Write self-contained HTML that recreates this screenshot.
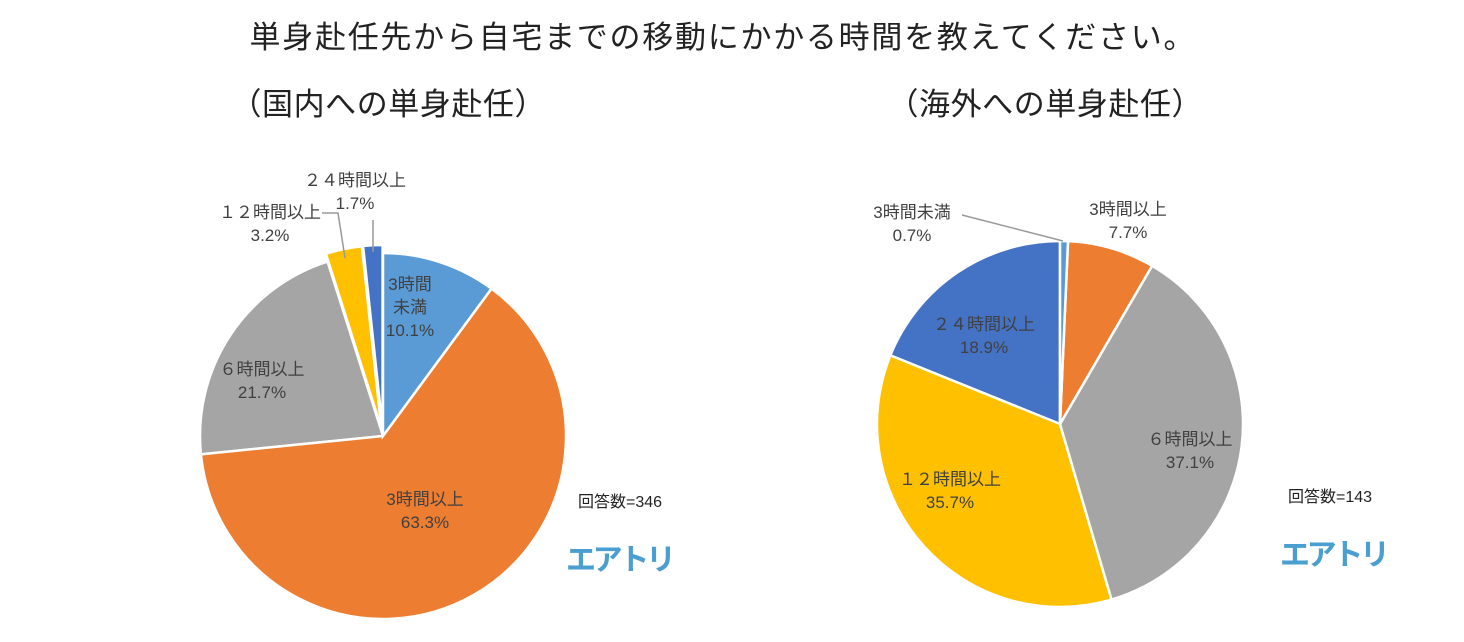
<!DOCTYPE html>
<html><head><meta charset="utf-8"><style>
body{margin:0;background:#fff;width:1464px;height:637px;overflow:hidden;font-family:"Liberation Sans","Noto Sans CJK JP",sans-serif}
svg text{font-family:"Liberation Sans","Noto Sans CJK JP",sans-serif}
</style></head><body>
<svg id="c" width="1464" height="637">
<text x="722" y="48" text-anchor="middle" font-size="31" fill="#222" textLength="945">単身赴任先から自宅までの移動にかかる時間を教えてください。</text>
<text x="388" y="115" text-anchor="middle" font-size="31" fill="#222" textLength="315">（国内への単身赴任）</text>
<text x="1045" y="115" text-anchor="middle" font-size="31" fill="#222" textLength="315">（海外への単身赴任）</text>
<text x="620" y="507" text-anchor="middle" font-size="16" fill="#222">回答数=346</text>
<text x="1330" y="502" text-anchor="middle" font-size="16" fill="#222">回答数=143</text>
<text x="621" y="570" text-anchor="middle" font-size="30" font-weight="bold" fill="#4a9fd0" textLength="110">エアトリ</text>
<text x="1335" y="565" text-anchor="middle" font-size="30" font-weight="bold" fill="#4a9fd0" textLength="110">エアトリ</text>
<polyline points="322,213 338,213 345,258" fill="none" stroke="#999" stroke-width="1.5"/>
<line x1="373" y1="220" x2="373" y2="252" stroke="#999" stroke-width="1.5"/>
<polyline points="962,215 1063,241" fill="none" stroke="#999" stroke-width="1.5"/>
</svg>
<script>
const colors=["#5b9bd5","#ed7d31","#a5a5a5","#ffc000","#4472c4"];
const leftCats=["3時間未満","3時間以上","6時間以上","12時間以上","24時間以上"];
const leftVals=[10.1,63.3,21.7,3.2,1.7];
const rightCats=["3時間未満","3時間以上","6時間以上","12時間以上","24時間以上"];
const rightVals=[0.7,7.7,37.1,35.7,18.9];
const leftLabels=[["3時間","未満","10.1%"],["3時間以上","63.3%"],["６時間以上","21.7%"],["１２時間以上","3.2%"],["２４時間以上","1.7%"]];
const rightLabels=[["3時間未満","0.7%"],["3時間以上","7.7%"],["６時間以上","37.1%"],["１２時間以上","35.7%"],["２４時間以上","18.9%"]];
const leftPos=[[410,290],[425,505],[262,375],[270,218],[355,186]];
const rightPos=[[912,218],[1128,215],[1190,445],[950,485],[984,330]];
const ns="http://www.w3.org/2000/svg";
const svg=document.getElementById('c');
function pie(cx,cy,r,vals,cats,explode,labels,pos,side){
  const tot=vals.reduce((a,b)=>a+b,0);let a0=0;
  vals.forEach((v,i)=>{
    const a1=a0+v/tot*2*Math.PI;const m=(a0+a1)/2;
    const e=explode[i]||0;const ox=cx+e*Math.sin(m),oy=cy-e*Math.cos(m);
    const x0=ox+r*Math.sin(a0),y0=oy-r*Math.cos(a0),x1=ox+r*Math.sin(a1),y1=oy-r*Math.cos(a1);
    const p=document.createElementNS(ns,'path');
    p.setAttribute('d',`M${ox},${oy}L${x0},${y0}A${r},${r} 0 ${a1-a0>Math.PI?1:0} 1 ${x1},${y1}Z`);
    p.setAttribute('fill',colors[i]);p.setAttribute('stroke','#fff');p.setAttribute('stroke-width','2.5');
    
    
    svg.insertBefore(p,svg.firstChild);
    const t=document.createElementNS(ns,'text');
    t.setAttribute('x',pos[i][0]);t.setAttribute('y',pos[i][1]);t.setAttribute('text-anchor','middle');
    t.setAttribute('font-size','17');t.setAttribute('fill','#404040');
    
    
    labels[i].forEach((s,k)=>{const ts=document.createElementNS(ns,'tspan');ts.setAttribute('x',pos[i][0]);ts.setAttribute('dy',k?'23':'0');ts.textContent=s;t.appendChild(ts);});
    svg.appendChild(t);
    a0=a1;
  });
}
pie(383,436,183,leftVals,leftCats,[0,0,0,8,8],leftLabels,leftPos,'left');
pie(1060,424,183,rightVals,rightCats,[0,0,0,0,0],rightLabels,rightPos,'right');
</script>
</body></html>
